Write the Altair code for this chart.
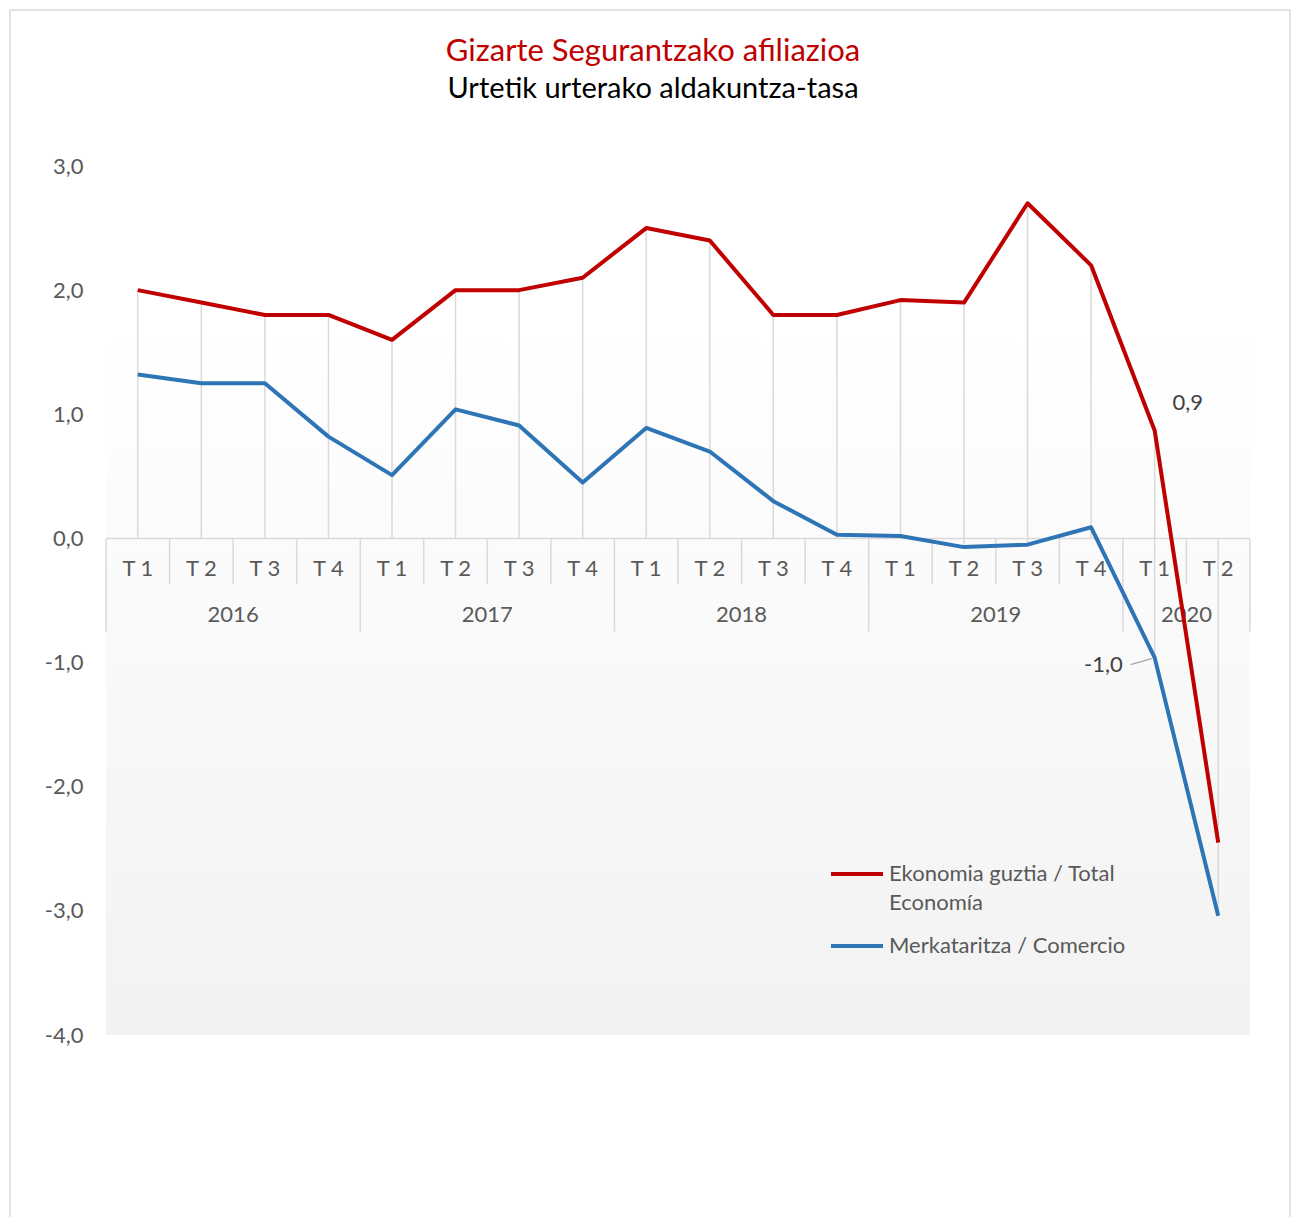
import altair as alt
import pandas as pd

# ---------------- data ----------------
years = ["2016", "2017", "2018", "2019", "2020"]
quarters_per_year = [4, 4, 4, 4, 2]
quarter_labels = ["T 1", "T 2", "T 3", "T 4"]
total = [2.0, 1.9, 1.8, 1.8, 1.6, 2.0, 2.0, 2.1, 2.5, 2.4, 1.8, 1.8,
         1.92, 1.9, 2.7, 2.2, 0.87, -2.45]
comercio = [1.32, 1.25, 1.25, 0.82, 0.51, 1.04, 0.91, 0.45, 0.89, 0.70, 0.30, 0.03,
            0.02, -0.07, -0.05, 0.09, -0.96, -3.04]
series_names = ["Ekonomia guztia / Total Economía", "Merkataritza / Comercio"]
series_colors = ["#C00000", "#2E75B6"]
labelled_index = 16  # 2020 T 1
title_text = "Gizarte Segurantzako afiliazioa"
subtitle_text = "Urtetik urterako aldakuntza-tasa"
y_ticks = [-4, -3, -2, -1, 0, 1, 2, 3]

# ---------------- tables ----------------
rows = []
i = 0
for yr, n in zip(years, quarters_per_year):
    for q in range(n):
        rows.append({"idx": i, "year": yr, "quarter": quarter_labels[q]})
        i += 1
cats = pd.DataFrame(rows)
cats["total"] = total
cats["comercio"] = comercio
cats["hi"] = cats[["total", "comercio"]].max(axis=1).clip(lower=0)
cats["lo"] = cats[["total", "comercio"]].min(axis=1).clip(upper=0)
n_cat = len(cats)

long_df = pd.concat([
    pd.DataFrame({"idx": cats["idx"], "series": series_names[0], "value": cats["total"]}),
    pd.DataFrame({"idx": cats["idx"], "series": series_names[1], "value": cats["comercio"]}),
], ignore_index=True)
long_df["label"] = long_df["value"].map(lambda v: f"{v:.1f}".replace(".", ","))

yr_df = cats.groupby("year", as_index=False).agg(mid=("idx", "mean"), start=("idx", "min"), end=("idx", "max"))
year_bounds = sorted(set((yr_df["start"] - 0.5).tolist() + (yr_df["end"] + 0.5).tolist()))
all_bounds = [k - 0.5 for k in range(n_cat + 1)]
short_bounds = [b for b in all_bounds if b not in year_bounds]
long_ticks = pd.DataFrame({"pos": year_bounds})
short_ticks = pd.DataFrame({"pos": short_bounds})
axis_line = pd.DataFrame({"a": [-0.5], "b": [n_cat - 0.5]})

W, H = 1144, 869
FONT = "Lato"
GRAY = "#595959"

xscale = alt.Scale(domain=[-0.5, n_cat - 0.5], nice=False, zero=False)
yscale = alt.Scale(domain=[min(y_ticks), max(y_ticks)], nice=False, zero=False)
yaxis = alt.Axis(values=y_ticks,
                 labelExpr="replace(replace(format(datum.value, '.1f'), '.', ','), '\u2212', '-')",
                 grid=False, domain=False, ticks=False, labelPadding=23,
                 labelFont=FONT, labelFontSize=22, labelColor=GRAY, title=None)

def X(field):
    return alt.X(field, type="quantitative", scale=xscale, axis=None)

def Yf(field):
    return alt.Y(field, type="quantitative", scale=yscale, axis=yaxis)

def Y0():
    return alt.Y(datum=0, type="quantitative", scale=yscale, axis=yaxis)

one = pd.DataFrame({"t": [title_text], "s": [subtitle_text]})

frame = alt.Chart(one).mark_rect(fill=None, stroke="#d9d9d9", strokeWidth=1.5).encode(
    x=alt.value(-96), x2=alt.value(1184), y=alt.value(-156), y2=alt.value(1075))

grad = alt.Chart(one).mark_rect(
    fill=alt.LinearGradient(gradient="linear", x1=0, x2=0, y1=0, y2=1,
                            stops=[alt.GradientStop(offset=0, color="#ffffff"),
                                   alt.GradientStop(offset=0.2, color="#ffffff"),
                                   alt.GradientStop(offset=1, color="#f2f2f2")])
).encode(x=alt.value(0), x2=alt.value(W), y=alt.value(0), y2=alt.value(H))

drop = alt.Chart(cats).mark_rule(color="#d9d9d9", strokeWidth=1.5).encode(
    x=X("idx"), y=Yf("hi"), y2="lo")

axl = alt.Chart(axis_line).mark_rule(color="#d9d9d9", strokeWidth=1.5).encode(
    x=X("a"), x2="b", y=Y0())

tick_s = alt.Chart(short_ticks).mark_rule(color="#d9d9d9", strokeWidth=1.5, y2Offset=46).encode(
    x=X("pos"), y=Y0(), y2=alt.Y2(datum=0))
tick_l = alt.Chart(long_ticks).mark_rule(color="#d9d9d9", strokeWidth=1.5, y2Offset=93).encode(
    x=X("pos"), y=Y0(), y2=alt.Y2(datum=0))

qlab = alt.Chart(cats).mark_text(font=FONT, fontSize=22, color=GRAY, dy=31, baseline="middle").encode(
    x=X("idx"), y=Y0(), text="quarter:N")
ylab = alt.Chart(yr_df).mark_text(font=FONT, fontSize=22, color=GRAY, dy=77, baseline="middle").encode(
    x=X("mid"), y=Y0(), text="year:N")

lines = alt.Chart(long_df).mark_line(strokeWidth=4, strokeJoin="round").encode(
    x=X("idx"), y=Yf("value"),
    color=alt.Color("series:N", sort=series_names,
                    scale=alt.Scale(domain=series_names, range=series_colors),
                    legend=alt.Legend(
                        orient="none", legendX=723, legendY=680, title=None,
                        symbolType="stroke", symbolSize=2704, symbolStrokeWidth=4,
                        labelFont=FONT, labelFontSize=22, labelColor=GRAY,
                        labelOffset=4, rowPadding=4, labelLimit=500, padding=0,
                        labelExpr="datum.label == '" + series_names[0] +
                                  "' ? ['Ekonomia guztia / Total', 'Economía'] : datum.label")),
    order="idx:Q")

lab_df = long_df[long_df["idx"] == labelled_index]
lab_top = alt.Chart(lab_df[lab_df["series"] == series_names[0]]).mark_text(
    font=FONT, fontSize=22, color="#404040", dx=33, dy=-27, baseline="middle", align="center").encode(
    x=X("idx"), y=Yf("value"), text="label:N")
lab_bot = alt.Chart(lab_df[lab_df["series"] == series_names[1]]).mark_text(
    font=FONT, fontSize=22, color="#404040", dx=-32, dy=7, baseline="middle", align="right").encode(
    x=X("idx"), y=Yf("value"), text="label:N")
leader = alt.Chart(lab_df[lab_df["series"] == series_names[1]]).mark_rule(
    color="#a6a6a6", strokeWidth=1.2, xOffset=-24, yOffset=7, x2Offset=-3, y2Offset=1).encode(
    x=X("idx"), x2="idx", y=Yf("value"), y2="value")

title = alt.Chart(one).mark_text(font=FONT, fontSize=31, color="#C00000", align="center",
                                 baseline="alphabetic").encode(
    x=alt.value(547), y=alt.value(-105), text="t:N")
subtitle = alt.Chart(one).mark_text(font=FONT, fontSize=29, color="#000000", align="center",
                                    baseline="alphabetic").encode(
    x=alt.value(547), y=alt.value(-68), text="s:N")

chart = alt.layer(
    frame, grad, drop, axl, tick_s, tick_l, qlab, ylab, lines, leader, lab_top, lab_bot, title, subtitle
).properties(
    width=W, height=H,
    autosize=alt.AutoSizeParams(type="none"),
    padding={"left": 98, "top": 158, "right": 42, "bottom": 182},
    background="#ffffff",
).configure(
    view={"stroke": None},
    style={"guide-label": {"lineHeight": 29}},
)

chart.save("out.html", embed_options={"renderer": "svg", "actions": False})
